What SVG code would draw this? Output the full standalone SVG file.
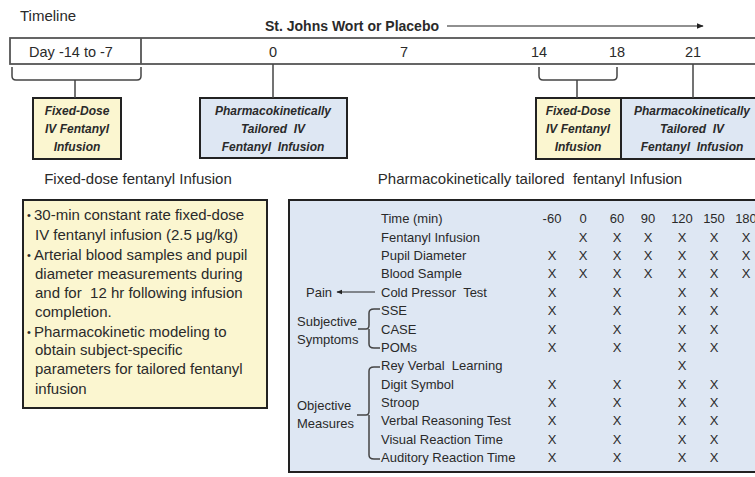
<svg xmlns="http://www.w3.org/2000/svg" width="755" height="477" viewBox="0 0 755 477">
<defs>
<marker id="ah" viewBox="0 0 10 10" refX="9" refY="5" markerWidth="6" markerHeight="6" orient="auto-start-reverse">
<path d="M0,1 L10,5 L0,9 z" fill="#222"/>
</marker>
<style>
text{font-family:"Liberation Sans",Arial,sans-serif;fill:#2a2a2a;white-space:pre}
.t13{font-size:14.5px}
.bi{font-size:12px;font-weight:bold;font-style:italic;text-anchor:middle}
.yel{fill:#fbf6d0;stroke:#222;stroke-width:2}
.blu{fill:#dee7f3;stroke:#222;stroke-width:2}
.ln{fill:none;stroke:#444;stroke-width:1.5}
.bl{font-size:15px}
.bu{font-size:11px}
.tb{font-size:13px}
.x{font-size:13px;text-anchor:middle}
</style>
</defs>
<rect width="755" height="477" fill="#fff"/>

<g id="timeline">
<text x="20" y="21" class="t13" style="font-size:15px">Timeline</text>
<rect x="10" y="38" width="760" height="26" fill="#fff" stroke="#555" stroke-width="1.8"/>
<line x1="141" y1="38" x2="141" y2="64" stroke="#555" stroke-width="1.8"/>
<text x="71" y="57" class="t13" text-anchor="middle">Day -14 to -7</text>
<text x="273" y="57" class="t13" text-anchor="middle">0</text>
<text x="404" y="57" class="t13" text-anchor="middle">7</text>
<text x="539" y="57" class="t13" text-anchor="middle">14</text>
<text x="617" y="57" class="t13" text-anchor="middle">18</text>
<text x="693" y="57" class="t13" text-anchor="middle">21</text>
</g>

<g id="sjw">
<text x="265" y="31" style="font-size:14px" font-weight="bold">St. Johns Wort or Placebo</text>
</g>

<g id="fixed1">
<rect class="yel" x="33" y="98" width="88" height="61"/>
<text class="bi" x="77" y="115">Fixed-Dose</text>
<text class="bi" x="77" y="133">IV Fentanyl</text>
<text class="bi" x="77" y="151">Infusion</text>
</g>

<g id="pk1">
<rect class="blu" x="200" y="98" width="147" height="60"/>
<text class="bi" x="273" y="115">Pharmacokinetically</text>
<text class="bi" x="273" y="133">Tailored  IV</text>
<text class="bi" x="273" y="151">Fentanyl  Infusion</text>
</g>

<g id="fixed2">
<rect class="yel" x="536" y="98" width="85" height="61"/>
<text class="bi" x="578" y="115">Fixed-Dose</text>
<text class="bi" x="578" y="133">IV Fentanyl</text>
<text class="bi" x="578" y="151">Infusion</text>
</g>

<g id="pk2">
<rect class="blu" x="621" y="98" width="150" height="61"/>
<text class="bi" x="692" y="115">Pharmacokinetically</text>
<text class="bi" x="692" y="133">Tailored  IV</text>
<text class="bi" x="692" y="151">Fentanyl  Infusion</text>
</g>

<g id="fixed-detail">
<text x="138" y="184" class="bl" text-anchor="middle">Fixed-dose fentanyl Infusion</text>
<rect class="yel" x="23" y="200" width="244" height="208"/>
<text class="bu" x="27" y="219">•</text><text class="bl" x="34" y="220">30-min constant rate fixed-dose</text>
<text class="bl" x="35" y="240">IV fentanyl infusion (2.5 μg/kg)</text>
<text class="bu" x="27" y="259">•</text><text class="bl" x="34" y="260">Arterial blood samples and pupil</text>
<text class="bl" x="35" y="279">diameter measurements during</text>
<text class="bl" x="35" y="298">and for  12 hr following infusion</text>
<text class="bl" x="35" y="317">completion.</text>
<text class="bu" x="27" y="336">•</text><text class="bl" x="34" y="337">Pharmacokinetic modeling to</text>
<text class="bl" x="35" y="355">obtain subject-specific</text>
<text class="bl" x="35" y="374">parameters for tailored fentanyl</text>
<text class="bl" x="35" y="394">infusion</text>
</g>

<g id="pk-detail">
<text x="530" y="184" class="bl" text-anchor="middle">Pharmacokinetically tailored  fentanyl Infusion</text>
<rect class="blu" x="289" y="200" width="480" height="272"/>
<g class="tb">
<text x="381" y="223">Time (min)</text>
<text x="381" y="242">Fentanyl Infusion</text>
<text x="381" y="260">Pupil Diameter</text>
<text x="381" y="278">Blood Sample</text>
<text x="381" y="297">Cold Pressor  Test</text>
<text x="381" y="315">SSE</text>
<text x="381" y="334">CASE</text>
<text x="381" y="352">POMs</text>
<text x="381" y="370">Rey Verbal  Learning</text>
<text x="381" y="389">Digit Symbol</text>
<text x="381" y="407">Stroop</text>
<text x="381" y="425">Verbal Reasoning Test</text>
<text x="381" y="444">Visual Reaction Time</text>
<text x="381" y="462">Auditory Reaction Time</text>
<text x="306" y="297">Pain</text>
<text x="297" y="326">Subjective</text>
<text x="297" y="344">Symptoms</text>
<text x="297" y="410">Objective</text>
<text x="297" y="428">Measures</text>
</g>
<g class="x">
<text x="552" y="223">-60</text><text x="583" y="223">0</text><text x="617" y="223">60</text><text x="648" y="223">90</text><text x="682" y="223">120</text><text x="714" y="223">150</text><text x="746" y="223">180</text>
<text x="583" y="242">X</text><text x="617" y="242">X</text><text x="648" y="242">X</text><text x="682" y="242">X</text><text x="714" y="242">X</text><text x="746" y="242">X</text>
<text x="552" y="260">X</text><text x="583" y="260">X</text><text x="617" y="260">X</text><text x="648" y="260">X</text><text x="682" y="260">X</text><text x="714" y="260">X</text><text x="746" y="260">X</text>
<text x="552" y="278">X</text><text x="583" y="278">X</text><text x="617" y="278">X</text><text x="648" y="278">X</text><text x="682" y="278">X</text><text x="714" y="278">X</text><text x="746" y="278">X</text>
<text x="552" y="297">X</text><text x="617" y="297">X</text><text x="682" y="297">X</text><text x="714" y="297">X</text>
<text x="552" y="315">X</text><text x="617" y="315">X</text><text x="682" y="315">X</text><text x="714" y="315">X</text>
<text x="552" y="334">X</text><text x="617" y="334">X</text><text x="682" y="334">X</text><text x="714" y="334">X</text>
<text x="552" y="352">X</text><text x="617" y="352">X</text><text x="682" y="352">X</text><text x="714" y="352">X</text>
<text x="682" y="370">X</text>
<text x="552" y="389">X</text><text x="617" y="389">X</text><text x="682" y="389">X</text><text x="714" y="389">X</text>
<text x="552" y="407">X</text><text x="617" y="407">X</text><text x="682" y="407">X</text><text x="714" y="407">X</text>
<text x="552" y="425">X</text><text x="617" y="425">X</text><text x="682" y="425">X</text><text x="714" y="425">X</text>
<text x="552" y="444">X</text><text x="617" y="444">X</text><text x="682" y="444">X</text><text x="714" y="444">X</text>
<text x="552" y="462">X</text><text x="617" y="462">X</text><text x="682" y="462">X</text><text x="714" y="462">X</text>
</g>
</g>

<g id="connectors">
<line x1="447" y1="26" x2="703" y2="26" stroke="#222" stroke-width="1.2" marker-end="url(#ah)"/>
<path class="ln" d="M12,67 V76 Q12,80 16,80 H137 Q141,80 141,76 V67"/>
<line class="ln" x1="75" y1="80" x2="75" y2="98"/>
<line class="ln" x1="273" y1="64" x2="273" y2="98"/>
<path class="ln" d="M539,67 V76 Q539,80 543,80 H613 Q617,80 617,76 V67"/>
<line class="ln" x1="577" y1="80" x2="577" y2="98"/>
<line class="ln" x1="693" y1="64" x2="693" y2="98"/>
<line x1="375" y1="292" x2="337" y2="292" stroke="#222" stroke-width="1" marker-end="url(#ah)"/>
<path class="ln" stroke-width="1" d="M358,329 H366 Q369,329 369,325 V313 Q369,309 374,309 H380 M369,329 V344 Q369,348 374,348 H380"/>
<path class="ln" stroke-width="1" d="M357,415 H366 Q369,415 369,411 V371 Q369,367 374,367 H380 M369,415 V455 Q369,459 374,459 H380"/>
</g>
</svg>
